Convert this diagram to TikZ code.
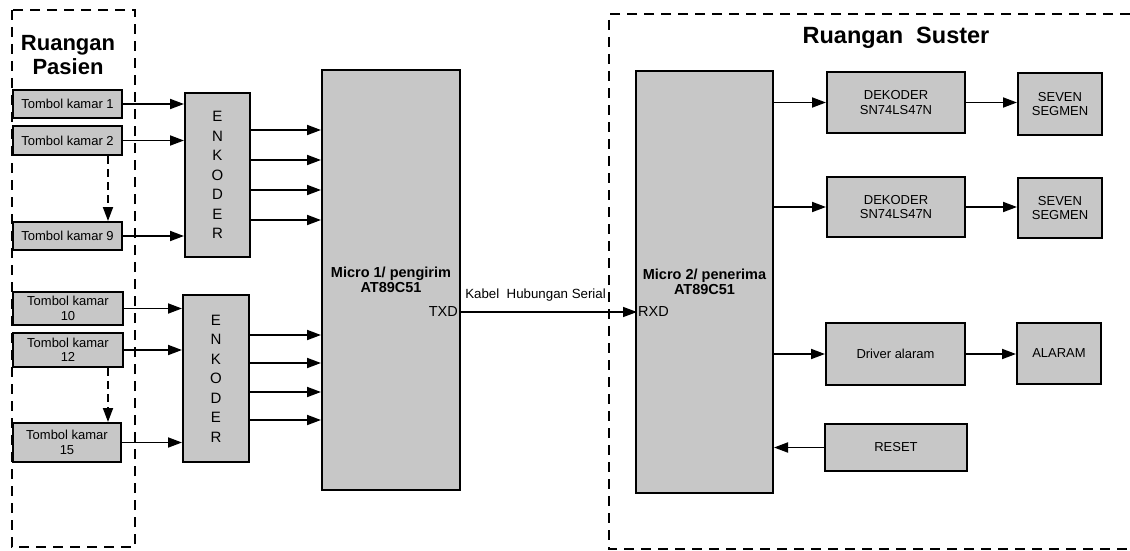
\documentclass[tikz,border=0pt]{standalone}
\usepackage{fontspec}
\setmainfont{Liberation Sans}
\usetikzlibrary{arrows.meta}

\begin{document}
\begin{tikzpicture}[x=1pt, y=-1pt,
    blok/.style={draw, line width=2pt, fill=black!22, inner sep=0pt, align=center,
        font=\fontsize{13}{14.5}\selectfont},
    arr/.style={line width=1.8pt, -{Triangle[length=14pt,width=10pt]}},
    dasharr/.style={line width=1.8pt, dash pattern=on 8pt off 5pt, -{Triangle[length=14pt,width=10pt]}},
    ruang/.style={line width=1.6pt, dash pattern=on 10pt off 7pt}]
    \useasboundingbox (0,0) rectangle (1130,551);
    \draw[ruang] (12,10) rectangle (135,547);
    \draw[ruang] (1130,14) -- (609,14) -- (609,549) -- (1130,549);
    \node[font=\fontsize{22}{24}\selectfont\bfseries, align=center] (pasien) at (68,55) {Ruangan\\Pasien};
    \node[font=\fontsize{23.5}{26}\selectfont\bfseries] (suster) at (896,38) {Ruangan~ Suster};

    \node[blok, minimum width=109, minimum height=28] (t1) at (67.5,104) {Tombol kamar 1};
    \node[blok, minimum width=109, minimum height=29] (t2) at (67.5,140.5) {Tombol kamar 2};
    \node[blok, minimum width=109, minimum height=28] (t9) at (67.5,236) {Tombol kamar 9};
    \node[blok, minimum width=110, minimum height=33] (t10) at (68,308.5) {Tombol kamar\\10};
    \node[blok, minimum width=110, minimum height=34] (t12) at (68,350) {Tombol kamar\\12};
    \node[blok, minimum width=108, minimum height=39] (t15) at (67,442.5) {Tombol kamar\\15};

    \node[blok, minimum width=65, minimum height=164, font=\fontsize{15}{19.5}\selectfont] (enk1) at (217.5,175) {E\\N\\K\\O\\D\\E\\R};
    \node[blok, minimum width=66, minimum height=167, font=\fontsize{15}{19.5}\selectfont] (enk2) at (216,378.5) {E\\N\\K\\O\\D\\E\\R};

    \node[blok, minimum width=138, minimum height=420, font=\fontsize{14.5}{15}\selectfont\bfseries] (m1) at (391,280) {Micro 1/ pengirim\\AT89C51};
    \node[blok, minimum width=137, minimum height=422, font=\fontsize{14.5}{15}\selectfont\bfseries] (m2) at (704.5,282) {Micro 2/ penerima\\AT89C51};
    \node[font=\fontsize{14.5}{16}\selectfont, anchor=east, inner sep=1pt] (txd) at (459,312) {TXD};
    \node[font=\fontsize{14.5}{16}\selectfont, anchor=west, inner sep=1pt] (rxd) at (637,312) {RXD};

    \node[blok, minimum width=138, minimum height=61] (dek1) at (896,102.5) {DEKODER\\SN74LS47N};
    \node[blok, minimum width=138, minimum height=60] (dek2) at (896,207) {DEKODER\\SN74LS47N};
    \node[blok, minimum width=84, minimum height=62] (seg1) at (1060,104) {SEVEN\\SEGMEN};
    \node[blok, minimum width=84, minimum height=60] (seg2) at (1060,208) {SEVEN\\SEGMEN};
    \node[blok, minimum width=139, minimum height=62] (drv) at (895.5,354) {Driver alaram};
    \node[blok, minimum width=84, minimum height=61] (alrm) at (1059,353) {ALARAM};
    \node[blok, minimum width=142, minimum height=47] (rst) at (896,447.5) {RESET};

    \foreach \t/\e in {t1/enk1, t2/enk1, t9/enk1, t10/enk2, t12/enk2, t15/enk2} {
        \draw[arr] (\t.east) -- (\t.east -| \e.west);
    }
    \draw[dasharr] (108,0 |- t2.south) -- (108,0 |- t9.north);
    \draw[dasharr] (108,0 |- t12.south) -- (108,0 |- t15.north);
    \foreach \y in {130, 160, 190, 220} {
        \draw[arr] (enk1.east |- 0,\y) -- (m1.west |- 0,\y);
    }
    \foreach \y in {335, 363, 392, 420} {
        \draw[arr] (enk2.east |- 0,\y) -- (m1.west |- 0,\y);
    }
    \draw[line width=1.5pt, -{Triangle[length=14pt,width=10pt]}] (txd.east) -- node[pos=0.43, above=7pt, font=\fontsize{13.3}{15}\selectfont] (kabel) {Kabel~ Hubungan Serial} (rxd.west);

    \draw[arr] (m2.east |- dek1.west) -- (dek1.west);
    \draw[arr] (m2.east |- dek2.west) -- (dek2.west);
    \draw[arr] (m2.east |- drv.west) -- (drv.west);
    \draw[arr] (rst.west) -- (rst.west -| m2.east);
    \draw[arr] (dek1.east) -- (dek1.east -| seg1.west);
    \draw[arr] (dek2.east) -- (dek2.east -| seg2.west);
    \draw[arr] (drv.east) -- (drv.east -| alrm.west);
\end{tikzpicture}
\end{document}
